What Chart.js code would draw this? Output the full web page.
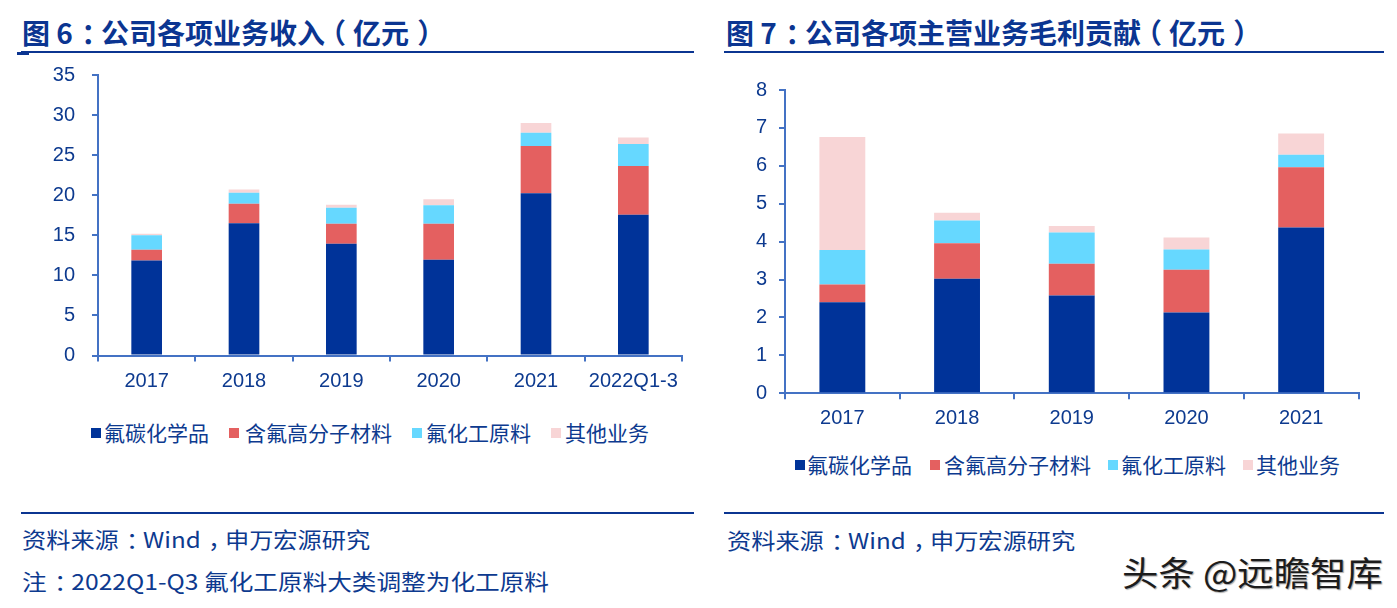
<!DOCTYPE html>
<html>
<head>
<meta charset="utf-8">
<script src="https://cdn.jsdelivr.net/npm/chart.js@4/dist/chart.umd.min.js"></script>
<style>
  html, body { margin: 0; padding: 0; background: #fff; width: 1397px; height: 608px; overflow: hidden; }
  body { position: relative; font-family: "Noto Sans CJK SC", "Noto Sans", sans-serif; }
  .abs { position: absolute; white-space: nowrap; }
  .title { font-weight: bold; font-size: 28px; line-height: 28px; color: #0b3591; transform-origin: 0 50%; transform: scaleX(1.0); }
  .rule { position: absolute; height: 2px; background: #0b3591; }
  .src { font-size: 22px; line-height: 22px; color: #0d3a8f; transform-origin: 0 50%; transform: scaleX(1.1); }
  .note { transform: scaleX(1.12); }
  .lg-sq { position: absolute; width: 10px; height: 10px; }
  .lg-tx { position: absolute; font-size: 21px; line-height: 21px; color: #0d3a8f; white-space: nowrap; }
  canvas { position: absolute; }
  .wm { font-size: 34px; line-height: 34px; color: #1c1c1c; text-shadow: 1px 1px 1px rgba(0,0,0,0.35); transform-origin: 0 50%; transform: scaleX(1.07); }
  .pr { position: relative; left: 0.3em; }
  .pl { position: relative; left: -0.25em; }
</style>
</head>
<body>
<div class="abs title" style="left:22px; top:18px;">图 6<span class="pr">：</span>公司各项业务收入<span class="pl">（</span>亿元<span class="pr">）</span></div>
<div class="rule" style="left:21px; top:51px; width:673px;"></div>
<div class="rule" style="left:17px; top:52px; width:12px; height:3px;"></div>
<canvas id="c1" width="700" height="410" style="left:0; top:0;"></canvas>
<div id="lg1"></div>
<div class="rule" style="left:21px; top:512px; width:673px;"></div>
<div class="abs src" style="left:22px; top:527px;">资料来源<span class="pr">：</span>Wind<span class="pr">，</span>申万宏源研究</div>
<div class="abs src note" style="left:22px; top:569px;">注<span class="pr">：</span>2022Q1-Q3 氟化工原料大类调整为化工原料</div>

<div class="abs title" style="left:726px; top:18px;">图 7<span class="pr">：</span>公司各项主营业务毛利贡献<span class="pl">（</span>亿元<span class="pr">）</span></div>
<div class="rule" style="left:724px; top:51px; width:660px;"></div>
<canvas id="c2" width="697" height="440" style="left:700px; top:0;"></canvas>
<div id="lg2"></div>
<div class="rule" style="left:724px; top:512px; width:660px;"></div>
<div class="abs src" style="left:727px; top:528px;">资料来源<span class="pr">：</span>Wind<span class="pr">，</span>申万宏源研究</div>
<div class="abs wm" style="left:1122px; top:555px;">头条 @远瞻智库</div>

<script>
// ---- Data: 图6 公司各项业务收入（亿元）----
const categories1 = ['2017', '2018', '2019', '2020', '2021', '2022Q1-3'];
const fluorocarbon1 = [11.85, 16.5, 13.95, 11.95, 20.25, 17.55];
const polymer1 = [1.35, 2.45, 2.5, 4.5, 5.9, 6.1];
const rawMaterial1 = [1.8, 1.35, 2.0, 2.3, 1.65, 2.75];
const other1 = [0.2, 0.4, 0.35, 0.75, 1.2, 0.8];
const yTicks1 = [0, 5, 10, 15, 20, 25, 30, 35];

// ---- Data: 图7 公司各项主营业务毛利贡献（亿元）----
const categories2 = ['2017', '2018', '2019', '2020', '2021'];
const fluorocarbon2 = [2.40, 3.02, 2.58, 2.13, 4.37];
const polymer2 = [0.47, 0.94, 0.84, 1.13, 1.59];
const rawMaterial2 = [0.91, 0.60, 0.82, 0.53, 0.33];
const other2 = [2.98, 0.20, 0.17, 0.32, 0.56];
const yTicks2 = [0, 1, 2, 3, 4, 5, 6, 7, 8];

const seriesNames = ['氟碳化学品', '含氟高分子材料', '氟化工原料', '其他业务'];
const seriesColors = ['#003399', '#E46060', '#66D8FF', '#F8D5D6'];

const axisColor = '#4472C4';
const textColor = '#0d3a8f';
const tickFont = { family: 'Liberation Sans, Arial, sans-serif', size: 20 };

function buildChart(canvasId, cats, seriesData, yTicks, geo) {
  const datasets = seriesData.map((d, i) => ({
    label: seriesNames[i],
    data: d,
    backgroundColor: seriesColors[i],
    borderWidth: 0,
    barPercentage: geo.barPct,
    categoryPercentage: 1.0
  }));
  return new Chart(document.getElementById(canvasId), {
    type: 'bar',
    data: { labels: cats, datasets },
    options: {
      responsive: false,
      animation: false,
      layout: { padding: { top: geo.top, right: geo.right, left: 0, bottom: 0 } },
      plugins: { legend: { display: false }, tooltip: { enabled: false } },
      scales: {
        x: {
          stacked: true,
          offset: true,
          grid: { display: true, drawOnChartArea: false, drawTicks: true, tickLength: 6,
                  color: axisColor, lineWidth: 2, offset: true },
          border: { display: true, color: axisColor, width: 2 },
          ticks: { color: textColor, font: tickFont, padding: geo.xPad, maxRotation: 0, autoSkip: false },
          afterFit: s => { s.height = geo.xH; }
        },
        y: {
          stacked: true,
          min: yTicks[0],
          max: yTicks[yTicks.length - 1],
          afterBuildTicks: s => { s.ticks = yTicks.map(v => ({ value: v })); },
          grid: { display: true, drawOnChartArea: false, drawTicks: true, tickLength: 6,
                  color: axisColor, lineWidth: 2 },
          border: { display: true, color: axisColor, width: 2 },
          ticks: { color: textColor, font: tickFont, padding: geo.yPad },
          afterFit: s => { s.width = geo.yW; }
        }
      }
    }
  });
}

buildChart('c1', categories1, [fluorocarbon1, polymer1, rawMaterial1, other1], yTicks1,
  { barPct: 0.315, top: 75, right: 18, xH: 54.5, yW: 98, xPad: 8, yPad: 17 });
buildChart('c2', categories2, [fluorocarbon2, polymer2, rawMaterial2, other2], yTicks2,
  { barPct: 0.40, top: 90, right: 38.5, xH: 46.7, yW: 85, xPad: 7, yPad: 12 });

// HTML legends built from series names/colours
function buildLegend(id, sqLefts, txLefts, top) {
  const host = document.getElementById(id);
  seriesNames.forEach((name, i) => {
    const sq = document.createElement('div');
    sq.className = 'lg-sq';
    sq.style.left = sqLefts[i] + 'px';
    sq.style.top = (top - 5) + 'px';
    sq.style.background = seriesColors[i];
    host.appendChild(sq);
    const tx = document.createElement('div');
    tx.className = 'lg-tx';
    tx.style.left = txLefts[i] + 'px';
    tx.style.top = (top - 11) + 'px';
    tx.textContent = name;
    host.appendChild(tx);
  });
}
buildLegend('lg1', [91, 229, 412, 551], [104, 245, 426, 565], 433);
buildLegend('lg2', [795, 930, 1108, 1243], [807, 944, 1121, 1256], 465);
</script>
</body>
</html>
